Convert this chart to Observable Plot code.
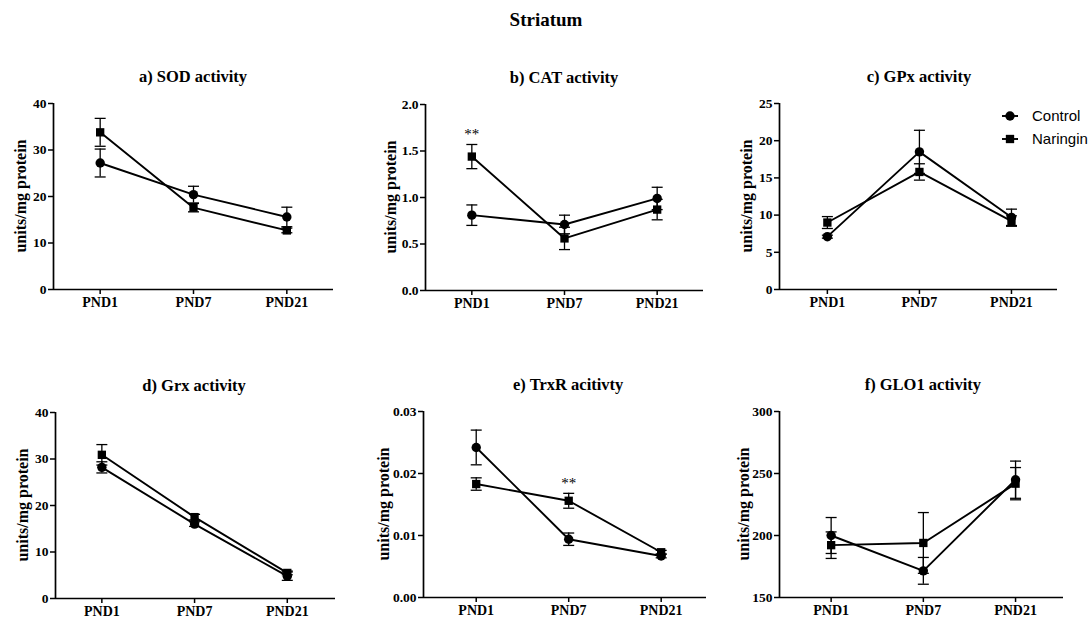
<!DOCTYPE html>
<html>
<head>
<meta charset="utf-8">
<script src="https://cdn.jsdelivr.net/npm/d3@7"></script>
<script src="https://cdn.jsdelivr.net/npm/@observablehq/plot@0.6"></script>
<style>
  html, body { margin: 0; padding: 0; background: #fff; }
  #root { position: relative; width: 1092px; height: 621px; overflow: hidden; background: #fff; }
  .abs { position: absolute; }
  .serif { font-family: "Liberation Serif", "Times New Roman", Tinos, serif; font-weight: bold; color: #000; }
  .ttl { font-size: 19px; }
  .ptitle { font-size: 16.5px; white-space: nowrap; transform: translate(-50%, -50%); }
  .ylab { font-size: 16px; line-height: 16px; white-space: nowrap; transform: translate(-50%, -50%) rotate(-90deg); }
  .legend { font-family: "Liberation Sans", Arial, sans-serif; font-size: 15px; color: #000; }
  .legend .row { display: flex; align-items: center; height: 23px; }
  .legend svg { display: block; }
</style>
</head>
<body>
<div id="root"></div>
<script>
// ---------------- data ----------------
const categories = ["PND1", "PND7", "PND21"];
const groups = ["Control", "Naringin"];
const yLabel = "units/mg protein";
const mainTitle = "Striatum";

const panelTitles = ["a) SOD activity", "b) CAT activity", "c) GPx activity",
                     "d) Grx activity", "e) TrxR acitivty", "f) GLO1 activity"];

const sodControl = [27.2, 20.4, 15.6];
const sodControlErr = [3.0, 1.8, 2.1];
const sodNaringin = [33.8, 17.6, 12.7];
const sodNaringinErr = [3.0, 0.9, 0.5];

const catControl = [0.81, 0.71, 0.99];
const catControlErr = [0.11, 0.10, 0.12];
const catNaringin = [1.44, 0.56, 0.87];
const catNaringinErr = [0.13, 0.12, 0.11];

const gpxControl = [7.1, 18.5, 9.7];
const gpxControlErr = [0.2, 2.9, 1.1];
const gpxNaringin = [9.0, 15.8, 9.2];
const gpxNaringinErr = [0.8, 1.1, 0.7];

const grxControl = [28.2, 16.0, 4.8];
const grxControlErr = [1.2, 0.5, 0.9];
const grxNaringin = [30.9, 17.5, 5.5];
const grxNaringinErr = [2.2, 0.6, 0.4];

const trxrControl = [0.0242, 0.0094, 0.0067];
const trxrControlErr = [0.0028, 0.0010, 0.0003];
const trxrNaringin = [0.0183, 0.0156, 0.0073];
const trxrNaringinErr = [0.0010, 0.0012, 0.0003];

const glo1Control = [200.0, 171.5, 245.0];
const glo1ControlErr = [14.5, 10.8, 15.0];
const glo1Naringin = [192.2, 194.0, 241.8];
const glo1NaringinErr = [10.7, 24.5, 13.0];

const sodTicks = [0, 10, 20, 30, 40];
const catTicks = [0, 0.5, 1.0, 1.5, 2.0];
const gpxTicks = [0, 5, 10, 15, 20, 25];
const grxTicks = [0, 10, 20, 30, 40];
const trxrTicks = [0, 0.01, 0.02, 0.03];
const glo1Ticks = [150, 200, 250, 300];

const catStars = [{cat: "PND1", y: 1.68, label: "**"}];
const trxrStars = [{cat: "PND7", y: 0.0184, label: "**"}];

// ---------------- layout ----------------
const panels = [
  {title: panelTitles[0], c: sodControl, ce: sodControlErr, n: sodNaringin, ne: sodNaringinErr,
   ticks: sodTicks, fmt: d3.format("d"), stars: [], labDx: 32,
   left: 0, top: 90, width: 360, ml: 53, mr: 27, xd: [-0.5, 2.5]},
  {title: panelTitles[1], c: catControl, ce: catControlErr, n: catNaringin, ne: catNaringinErr,
   ticks: catTicks, fmt: d3.format(".1f"), stars: catStars, labDx: 34,
   left: 360, top: 91, width: 360, ml: 65, mr: 17, xd: [-0.5, 2.5]},
  {title: panelTitles[2], c: gpxControl, ce: gpxControlErr, n: gpxNaringin, ne: gpxNaringinErr,
   ticks: gpxTicks, fmt: d3.format("d"), stars: [], labDx: 32,
   left: 720, top: 90, width: 372, ml: 59, mr: 35, xd: [-0.52, 2.5]},
  {title: panelTitles[3], c: grxControl, ce: grxControlErr, n: grxNaringin, ne: grxNaringinErr,
   ticks: grxTicks, fmt: d3.format("d"), stars: [], labDx: 32,
   left: 0, top: 399, width: 360, ml: 55, mr: 25, xd: [-0.5, 2.52]},
  {title: panelTitles[4], c: trxrControl, ce: trxrControlErr, n: trxrNaringin, ne: trxrNaringinErr,
   ticks: trxrTicks, fmt: d3.format(".2f"), stars: trxrStars, labDx: 39,
   left: 360, top: 398, width: 360, ml: 63, mr: 14, xd: [-0.57, 2.49]},
  {title: panelTitles[5], c: glo1Control, ce: glo1ControlErr, n: glo1Naringin, ne: glo1NaringinErr,
   ticks: glo1Ticks, fmt: d3.format("d"), stars: [], labDx: 35,
   left: 720, top: 398, width: 372, ml: 59, mr: 29, xd: [-0.56, 2.52]}
];

const H = 229, MT = 13, MB = 30;
const SERIF = "'Liberation Serif', 'Times New Roman', Tinos, serif";
const capSymbol = { draw(ctx) { ctx.moveTo(-5.5, 0); ctx.lineTo(5.5, 0); } };

const root = document.getElementById("root");

function el(cls, text, x, y) {
  const d = document.createElement("div");
  d.className = cls;
  d.textContent = text;
  d.style.left = x + "px";
  d.style.top = y + "px";
  root.appendChild(d);
  return d;
}

const t = el("abs serif ttl", mainTitle, 0, 9);
t.style.width = "1092px"; t.style.textAlign = "center";

for (const p of panels) {
  const rows = [];
  categories.forEach((cat, i) => {
    rows.push({i, cat, group: groups[0], v: p.c[i], e: p.ce[i]});
    rows.push({i, cat, group: groups[1], v: p.n[i], e: p.ne[i]});
  });
  const yd = [p.ticks[0], p.ticks[p.ticks.length - 1]];
  const chart = Plot.plot({
    width: p.width, height: H,
    marginLeft: p.ml, marginRight: p.mr, marginTop: MT, marginBottom: MB,
    style: {fontFamily: SERIF, fontWeight: "bold",
            fontSize: "14px", color: "#000", background: "transparent", overflow: "visible"},
    x: {type: "linear", domain: p.xd},
    y: {domain: yd},
    symbol: {domain: groups, range: ["circle", "square"]},
    marks: [
      Plot.axisX({ticks: [0, 1, 2], tickFormat: i => categories[i], tickSize: 5, tickPadding: 3,
        fontSize: 14, strokeWidth: 1.5, label: null}),
      Plot.axisY({ticks: p.ticks, tickFormat: p.fmt, tickSize: 5, tickPadding: 2,
        fontSize: 13.5, strokeWidth: 1.5, label: null}),
      Plot.ruleY([yd[0]], {stroke: "#000", strokeWidth: 1.7}),
      Plot.ruleX([p.xd[0]], {stroke: "#000", strokeWidth: 1.7}),
      Plot.ruleX(rows, {x: "i", y1: d => d.v - d.e, y2: d => d.v + d.e, stroke: "#000", strokeWidth: 1.3}),
      Plot.dot(rows, {x: "i", y: d => d.v + d.e, symbol: capSymbol, stroke: "#000", strokeWidth: 1.3}),
      Plot.dot(rows, {x: "i", y: d => d.v - d.e, symbol: capSymbol, stroke: "#000", strokeWidth: 1.3}),
      Plot.line(rows, {x: "i", y: "v", z: "group", stroke: "#000", strokeWidth: 1.9}),
      Plot.dot(rows, {x: "i", y: "v", symbol: "group", fill: "#000", stroke: "none", r: 4.7}),
      Plot.text(p.stars, {x: d => categories.indexOf(d.cat), y: "y", text: "label",
        fontSize: 15, fontWeight: "normal", fill: "#000"})
    ]
  });
  chart.style.position = "absolute";
  chart.style.left = p.left + "px";
  chart.style.top = p.top + "px";
  root.appendChild(chart);

  const xs = d3.scaleLinear().domain(p.xd).range([p.left + p.ml, p.left + p.width - p.mr]);
  const frameMid = p.top + MT + (H - MT - MB) / 2;
  el("abs serif ptitle", p.title, xs(1), p.top - 13);
  el("abs serif ylab", yLabel, p.left + p.ml - p.labDx, frameMid);
}

// legend
const leg = document.createElement("div");
leg.className = "abs legend";
leg.style.left = "1001px";
leg.style.top = "104px";
groups.forEach((g, k) => {
  const row = document.createElement("div");
  row.className = "row";
  const ns = "http://www.w3.org/2000/svg";
  const s = document.createElementNS(ns, "svg");
  s.setAttribute("width", "31"); s.setAttribute("height", "12");
  const ln = document.createElementNS(ns, "line");
  ln.setAttribute("x1", "1"); ln.setAttribute("x2", "17");
  ln.setAttribute("y1", "6"); ln.setAttribute("y2", "6");
  ln.setAttribute("stroke", "#000"); ln.setAttribute("stroke-width", "1.9");
  s.appendChild(ln);
  const m = document.createElementNS(ns, "path");
  m.setAttribute("d", d3.symbol(k === 0 ? d3.symbolCircle : d3.symbolSquare, Math.PI * 4.7 * 4.7)());
  m.setAttribute("transform", "translate(9,6)");
  s.appendChild(m);
  row.appendChild(s);
  const tx = document.createElement("span");
  tx.textContent = g;
  row.appendChild(tx);
  leg.appendChild(row);
});
root.appendChild(leg);
</script>
</body>
</html>
